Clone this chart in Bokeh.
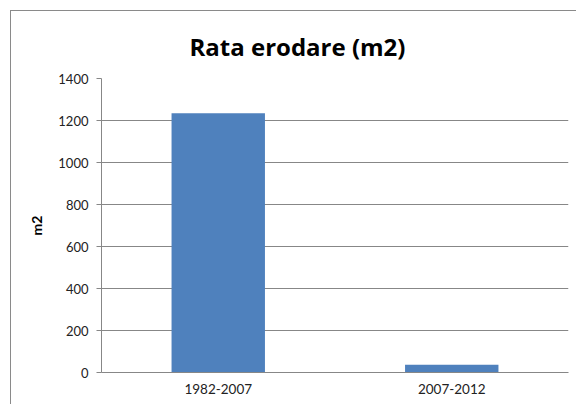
from bokeh.plotting import figure
from bokeh.models import ColumnDataSource, FixedTicker, Range1d
from bokeh.embed import file_html
from bokeh.resources import INLINE

periods = ["1982-2007", "2007-2012"]
rates = [1235, 37]
y_ticks = [0, 200, 400, 600, 800, 1000, 1200, 1400]
title_text = "Rata erodare (m2)"
y_label = "m2"

src = ColumnDataSource(dict(period=periods, rate=rates))

FONT = "Lato"
GRID = "#878787"

p = figure(x_range=periods, y_range=Range1d(0, 1400), width=566, height=394,
           output_backend="svg", toolbar_location=None,
           min_border_left=90, min_border_right=9, min_border_top=67, min_border_bottom=33,
           title=title_text)
p.styles = {"margin-left": "10px", "margin-top": "10px",
            "border-left": "1px solid #8a8a8a", "border-top": "1px solid #8a8a8a"}

p.vbar(x="period", top="rate", width=0.4, source=src, fill_color="#4F81BD", line_color=None)

p.title.align = "left"
p.title.offset = 88
p.title.standoff = 32
p.title.text_font = "Open Sans"
p.title.text_font_size = "24px"
p.title.text_font_style = "bold"
p.title.text_color = "#000000"

p.outline_line_color = None
p.background_fill_color = "white"
p.border_fill_color = "white"

p.xgrid.grid_line_color = None
p.ygrid.grid_line_color = GRID
p.ygrid.grid_line_width = 1

p.yaxis.ticker = FixedTicker(ticks=y_ticks)
p.yaxis.axis_line_color = GRID
p.yaxis.major_tick_line_color = GRID
p.yaxis.major_tick_out = 5
p.yaxis.major_tick_in = 0
p.yaxis.minor_tick_line_color = None
p.yaxis.major_label_standoff = 8
p.yaxis.major_label_text_font = FONT
p.yaxis.major_label_text_font_size = "13px"
p.yaxis.major_label_text_color = "#222222"
p.yaxis.axis_label = y_label
p.yaxis.axis_label_text_font = FONT
p.yaxis.axis_label_text_font_size = "14px"
p.yaxis.axis_label_text_font_style = "bold"
p.yaxis.axis_label_standoff = 10
p.yaxis.axis_label_text_color = "#000000"

p.xaxis.axis_line_color = GRID
p.xaxis.major_tick_line_color = None
p.xaxis.minor_tick_line_color = None
p.xaxis.major_label_standoff = 5
p.xaxis.major_label_text_font = FONT
p.xaxis.major_label_text_font_size = "13.5px"
p.xaxis.major_label_text_color = "#222222"

open("out.html", "w").write(file_html(p, INLINE))
